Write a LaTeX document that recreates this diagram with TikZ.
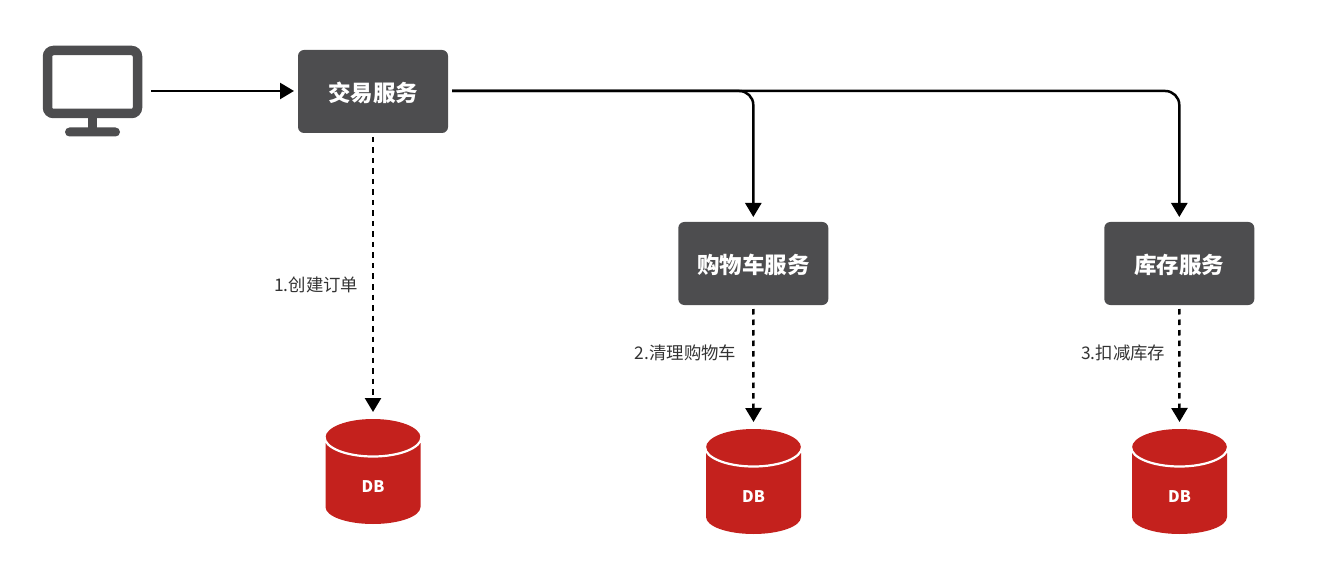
\documentclass[tikz,border=0pt]{standalone}
\usepackage{fontspec}
\setmainfont{Noto Sans CJK SC}
\usetikzlibrary{arrows.meta}
\definecolor{boxgray}{HTML}{4D4D4F}
\definecolor{dbred}{HTML}{C4211D}
\definecolor{labelgray}{HTML}{333333}
\tikzset{
  svc/.style={fill=boxgray,rounded corners=6pt,minimum width=150pt,minimum height=83pt,inner sep=0pt,outer sep=0pt,text=white,font=\fontsize{22.5}{22.5}\selectfont\bfseries},
  dbbox/.style={minimum width=96pt,minimum height=105pt,inner sep=0pt,outer sep=0pt},
  dbtext/.style={text=white,inner sep=0pt,font=\fontsize{16}{16}\selectfont\bfseries},
  lbl/.style={text=labelgray,inner sep=0pt,font=\fontsize{17.4}{17.4}\selectfont},
  solidarrow/.style={draw=black,line width=2.5pt,rounded corners=14pt,-{Triangle[length=14pt,width=16pt]}},
  dasharrow/.style={draw=black,line width=2.5pt,dash pattern=on 5.5pt off 5pt,-{Triangle[length=14pt,width=16pt]}},
}
\newcommand{\dbshape}[1]{%
  \fill[dbred] (#1,-443) -- (#1+47.5,-443) -- (#1+47.5,-507) arc[start angle=0,end angle=-180,x radius=47.5,y radius=17] -- (#1-47.5,-443) -- cycle;
  \fill[dbred] (#1,-437.5) ellipse[x radius=47.5,y radius=18.5];
  \draw[white,line width=2.2pt] (#1-48.5,-437) arc[start angle=180,end angle=360,x radius=48.5,y radius=19.5];
}
\newcommand{\svctext}[1]{\raisebox{-1.2pt}[\height][\depth]{#1}}
\begin{document}
\begin{tikzpicture}[x=1pt,y=1pt]
\useasboundingbox (0,0) rectangle (1343,-577);
% monitor
\draw[boxgray,line width=9.5pt,rounded corners=6pt] (47.5,-50.5) rectangle (137.5,-113.5);
\fill[boxgray] (88,-116) rectangle (97,-130);
\fill[boxgray,rounded corners=4.5pt] (65,-127.5) rectangle (120,-136.5);
\coordinate (pcout) at (151,-91);
% services
\node[svc] (trade) at (373,-91.5) {\svctext{交易服务}};
\node[svc] (cart) at (753.3,-263.5) {\svctext{购物车服务}};
\node[svc] (stock) at (1179.3,-263.5) {\svctext{库存服务}};
% databases
\dbshape{373}
\node[dbbox] (db1) at (373,-471.5) {};
\node[dbtext] (db1t) at (373,-487) {DB};
\begin{scope}[yshift=-10pt]
\dbshape{753.5}
\end{scope}
\node[dbbox] (db2) at (753.5,-481.5) {};
\node[dbtext] (db2t) at (753.5,-497) {DB};
\begin{scope}[yshift=-10pt]
\dbshape{1179.5}
\end{scope}
\node[dbbox] (db3) at (1179.5,-481.5) {};
\node[dbtext] (db3t) at (1179.5,-497) {DB};
% connectors
\draw[solidarrow] (pcout) -- ([xshift=-4pt]pcout -| trade.west);
\draw[solidarrow] ([xshift=4pt,yshift=0.5pt]trade.east) -| ([yshift=5pt]cart.north);
\draw[solidarrow] ([xshift=4pt,yshift=0.5pt]trade.east) -| ([yshift=5pt]stock.north);
\draw[dasharrow] ([yshift=-4pt]trade.south) -- ([yshift=7pt]db1.north);
\draw[dasharrow] ([yshift=-4pt]cart.south) -- ([yshift=7pt]db2.north);
\draw[dasharrow] ([yshift=-4pt]stock.south) -- ([yshift=7pt]db3.north);
% labels
\node[lbl,anchor=west] (l1) at (274,-285) {1.创建订单};
\node[lbl,anchor=west] (l2) at (634.5,-352.5) {2.清理购物车};
\node[lbl,anchor=west] (l3) at (1081,-352.5) {3.扣减库存};
\end{tikzpicture}
\end{document}
